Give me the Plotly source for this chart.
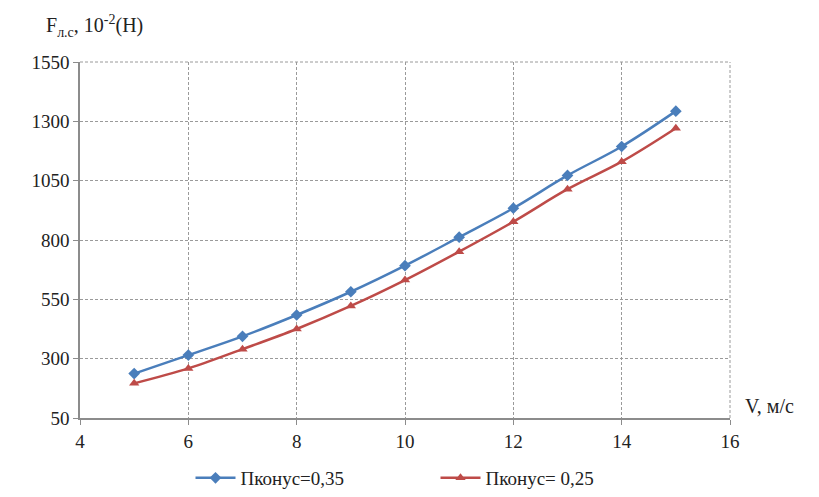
import plotly.graph_objects as go

v = [5, 6, 7, 8, 9, 10, 11, 12, 13, 14, 15]
f_035 = [237, 315, 394, 484, 582, 692, 812, 934, 1072, 1194, 1343]
f_025 = [196, 259, 340, 425, 522, 631, 751, 877, 1014, 1130, 1271]
x_ticks = [4, 6, 8, 10, 12, 14, 16]
y_ticks = [50, 300, 550, 800, 1050, 1300, 1550]

font = "Liberation Serif"
grid = dict(showgrid=True, gridcolor="#9a9a9a", griddash="3px,2px", gridwidth=1,
            showline=True, linecolor="#8c8c8c", linewidth=1.5, ticks="outside",
            ticklen=5, tickcolor="#8c8c8c", zeroline=False, automargin=False)

fig = go.Figure()
fig.add_trace(go.Scatter(
    x=v, y=f_035, name="Пконус=0,35", mode="lines+markers",
    line=dict(color="#4A7EBB", width=2.5, shape="spline"),
    marker=dict(symbol="diamond", size=9, color="#4A7EBB")))
fig.add_trace(go.Scatter(
    x=v, y=f_025, name="Пконус= 0,25", mode="lines+markers",
    line=dict(color="#BE4B48", width=2.5, shape="spline"),
    marker=dict(symbol="triangle-up", size=9, color="#BE4B48")))

fig.update_layout(
    width=811, height=489,
    margin=dict(l=72, r=89, t=54, b=79),
    paper_bgcolor="white", plot_bgcolor="white",
    font=dict(family=font, size=19, color="#222"),
    showlegend=True,
    legend=dict(orientation="h", x=0.17, xanchor="left", y=-0.05, yanchor="bottom",
                yref="container",
                font=dict(size=19), entrywidth=190, entrywidthmode="pixels",
                itemwidth=40, tracegroupgap=0),
    xaxis=dict(range=[4, 16], tickvals=x_ticks, **grid),
    yaxis=dict(range=[50, 1550], tickvals=y_ticks, **grid),
    shapes=[
        dict(type="line", xref="paper", yref="paper", x0=0, x1=1, y0=1, y1=1,
             line=dict(color="#9a9a9a", width=1, dash="3px,2px"), layer="below"),
        dict(type="line", xref="paper", yref="paper", x0=1, x1=1, y0=0, y1=1,
             line=dict(color="#9a9a9a", width=1, dash="3px,2px"), layer="below"),
    ],
    annotations=[
        dict(text="F<sub>л.с</sub>, 10<sup>-2</sup>(Н)", xref="paper", yref="paper",
             x=-0.056, y=1.055, xanchor="left", yanchor="bottom", showarrow=False,
             font=dict(size=20)),
        dict(text="V, м/с", xref="paper", yref="paper", x=1.02, y=0.035,
             xanchor="left", yanchor="middle", showarrow=False, font=dict(size=20)),
    ],
)
fig.write_html("out.html")
